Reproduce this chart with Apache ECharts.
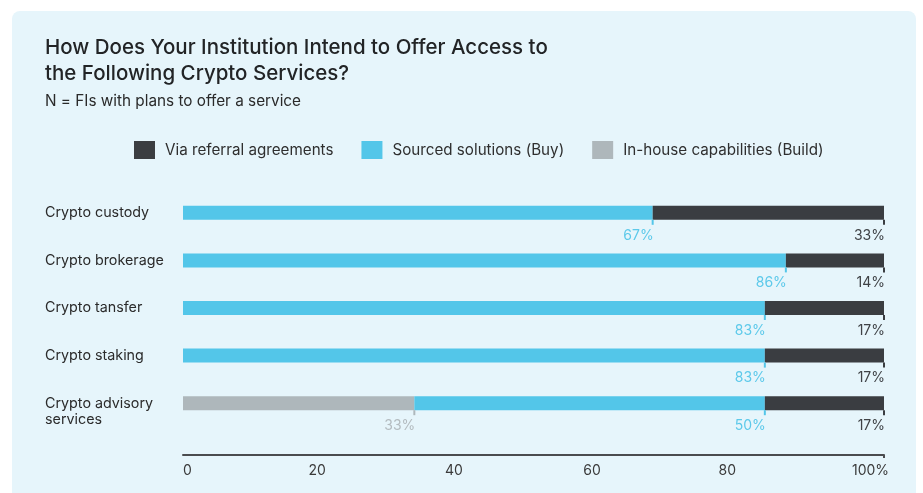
<!DOCTYPE html>
<html>
<head>
<meta charset="utf-8">
<script src="https://cdn.jsdelivr.net/npm/echarts@6/dist/echarts.min.js"></script>
<style>
  html, body { margin: 0; padding: 0; background: #ffffff; }
  #panel { position: absolute; left: 12px; top: 11px; width: 904px; height: 500px; background: #E6F5FB; border-radius: 8px; }
  #chart { position: absolute; left: 0; top: 0; width: 923px; height: 493px; }
</style>
</head>
<body>
<div id="panel"></div>
<div id="chart"></div>
<script>
const categories = ['Crypto custody', 'Crypto brokerage', 'Crypto tansfer', 'Crypto staking', 'Crypto advisory\nservices'];
const seriesNames = ['Via referral agreements', 'Sourced solutions (Buy)', 'In-house capabilities (Build)'];
const referral = [33, 14, 17, 17, 17];
const sourced = [67, 86, 83, 83, 50];
const inhouse = [0, 0, 0, 0, 33];
const xTickValues = [0, 20, 40, 60, 80, 100];
const xTickLabels = ['0', '20', '40', '60', '80', '100%'];

const COLORS = { referral: '#3A3D41', sourced: '#53C6E9', inhouse: '#AEB7BB' };
const LABEL_COLORS = { referral: '#3F4246', sourced: '#5CC9EA', inhouse: '#B3BBBF' };
const FONT = 'Inter, "Noto Sans", sans-serif';

// horizontal nudges for the axis labels (space-between look of the reference)
const xLabelPad = { 0: [0, 0, 0, 9], 20: [0, 12, 0, 0], 40: [0, 19, 0, 0], 60: [0, 23, 0, 0], 80: [0, 33, 0, 0], 100: [0, 27, 0, 0] };
const xRich = {};
xTickValues.forEach(v => {
  xRich['l' + v] = { padding: xLabelPad[v], fontSize: 14, color: '#3a3a3a', fontFamily: FONT };
});

function makeSeries(name, data, key) {
  return {
    name: name,
    type: 'bar',
    stack: 'total',
    barWidth: 14,
    data: data,
    itemStyle: { color: COLORS[key] },
    label: {
      show: true,
      position: ['100%', '100%'],
      align: 'right',
      verticalAlign: 'top',
      offset: [1, 0],
      formatter: p => p.value > 0 ? '{t| }\n{v|' + p.value + '%}' : '',
      rich: {
        t: { width: 2, height: 5, lineHeight: 5, fontSize: 1, backgroundColor: COLORS[key] },
        v: { fontSize: 14, lineHeight: 18, padding: [3, 0, 0, 0], color: LABEL_COLORS[key], fontFamily: FONT }
      }
    },
    emphasis: { disabled: true }
  };
}

const chart = echarts.init(document.getElementById('chart'), null, { renderer: 'canvas' });
chart.setOption({
  backgroundColor: 'transparent',
  animation: false,
  textStyle: { fontFamily: FONT },
  title: [
    {
      text: 'How Does Your Institution Intend to Offer Access to\nthe Following Crypto Services?',
      left: 45, top: 35, padding: 0,
      textStyle: { fontSize: 20.5, lineHeight: 26, fontWeight: 500, color: '#222426', fontFamily: FONT }
    },
    {
      text: 'N = FIs with plans to offer a service',
      left: 45, top: 92, padding: 0,
      textStyle: { fontSize: 15.3, lineHeight: 18, fontWeight: 'normal', color: '#2a2a2a', fontFamily: FONT }
    }
  ],
  legend: {
    data: seriesNames,
    left: 134, top: 141, padding: 0,
    icon: 'rect', itemWidth: 21, itemHeight: 18, itemGap: 28,
    selectedMode: false,
    textStyle: { fontSize: 15.2, color: '#2f2f2f', padding: [0, 0, 0, 5], fontFamily: FONT }
  },
  grid: { left: 183, right: 39, top: 189, bottom: 66, containLabel: false, outerBoundsMode: 'none' },
  xAxis: {
    type: 'value', min: 0, max: 100, interval: 20,
    offset: 28,
    axisLine: { show: true, lineStyle: { color: '#4a4c4f', width: 2 } },
    axisTick: { show: true, customValues: [100], length: 3, lineStyle: { color: '#4a4c4f', width: 2 } },
    splitLine: { show: false },
    axisLabel: {
      margin: 9,
      formatter: v => '{l' + v + '|' + xTickLabels[xTickValues.indexOf(v)] + '}',
      rich: xRich
    }
  },
  yAxis: {
    type: 'category', data: categories, inverse: true,
    axisLine: { show: false }, axisTick: { show: false },
    axisLabel: {
      align: 'left', margin: 138,
      fontSize: 14.3, lineHeight: 16, color: '#2b2b2b', fontFamily: FONT,
      formatter: v => v.indexOf('\n') >= 0 ? '\u00a0\n' + v : v
    }
  },
  series: [
    makeSeries(seriesNames[2], inhouse, 'inhouse'),
    makeSeries(seriesNames[1], sourced, 'sourced'),
    makeSeries(seriesNames[0], referral, 'referral')
  ]
});
</script>
</body>
</html>
